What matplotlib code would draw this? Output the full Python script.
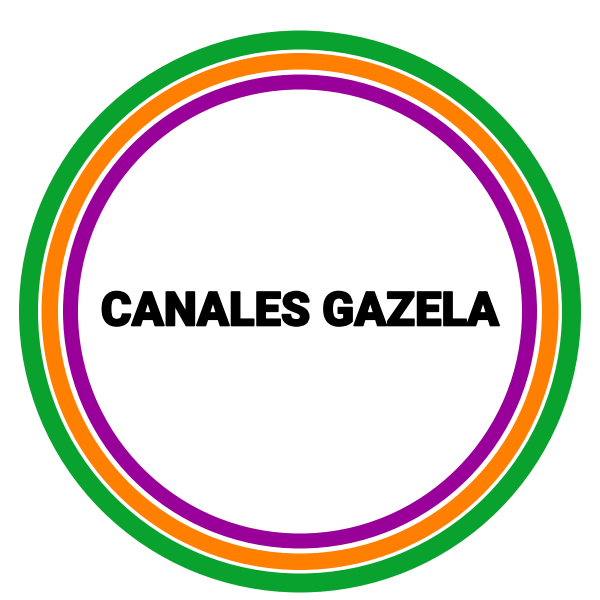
import matplotlib
matplotlib.use("Agg")
import matplotlib.pyplot as plt
from matplotlib.patches import Wedge
import matplotlib.patheffects as pe

# Ring data (outer radius, ring width, color) in pixel units
ring_names = ["green", "orange", "purple"]
ring_outer = [281, 258.5, 237]
ring_width = [19, 16.5, 15]
ring_colors = ["#0aa22e", "#ff8000", "#990099"]
label = "CANALES GAZELA"

W = H = 600
fig = plt.figure(figsize=(6, 6), dpi=100)
ax = fig.add_axes([0, 0, 1, 1])
ax.set_xlim(0, W)
ax.set_ylim(H, 0)
ax.set_aspect("equal")
ax.axis("off")

cx, cy = 300, 311.5
for r, w, c in zip(ring_outer, ring_width, ring_colors):
    ax.add_patch(Wedge((cx, cy), r, 0, 360, width=w, facecolor=c, edgecolor="none"))

fs = 47
t = ax.text(cx, cy + 1, label, ha="center", va="center", fontsize=fs,
            family=["Roboto", "DejaVu Sans"], fontweight="black", color="black",
            path_effects=[pe.withStroke(linewidth=1.2, foreground="black", joinstyle="round", capstyle="round")])
fig.canvas.draw()
bb = t.get_window_extent()
if bb.width > 398:
    t.set_fontsize(fs * 398 / bb.width)

fig.savefig("out.png", dpi=100, facecolor="white")
